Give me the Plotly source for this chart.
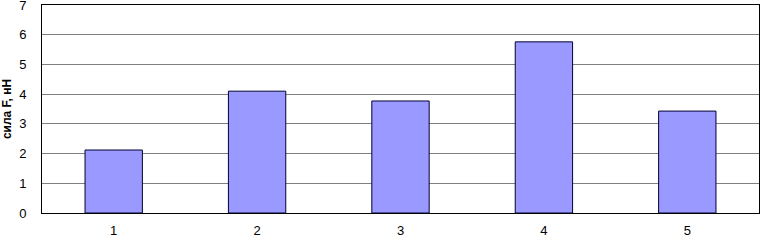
import plotly.graph_objects as go

categories = ["1", "2", "3", "4", "5"]
values = [2.12, 4.1, 3.77, 5.76, 3.43]
y_ticks = [0, 1, 2, 3, 4, 5, 6, 7]
y_title = "сила F, нН"

fig = go.Figure()
fig.add_trace(go.Bar(
    x=categories, y=values,
    marker=dict(color="#9999FF", line=dict(color="#000033", width=1)),
    width=0.4,
))
fig.update_layout(
    width=761, height=240,
    margin=dict(l=42, r=2, t=5, b=27, autoexpand=False),
    paper_bgcolor="white", plot_bgcolor="white",
    showlegend=False,
    font=dict(family="Arial, Liberation Sans", size=13, color="black"),
)
fig.update_xaxes(
    type="category", showline=True, linecolor="black", linewidth=1, mirror=True,
    ticks="", showgrid=False, ticklabelstandoff=5, automargin=False,
)
fig.update_yaxes(
    range=[0, 7], tickvals=y_ticks, showline=True, linecolor="black", linewidth=1,
    mirror=True, showgrid=True, gridcolor="#808080", gridwidth=1, ticks="",
    zeroline=False, ticklabelstandoff=12, automargin=False,
    ticklabeloverflow="allow",
    title=dict(text="<b>" + y_title + "</b>", standoff=4, font=dict(size=12)),
)
fig.write_html("out.html", config={"displayModeBar": False},
               post_script="document.body.style.margin='0';document.body.style.overflow='hidden';")
